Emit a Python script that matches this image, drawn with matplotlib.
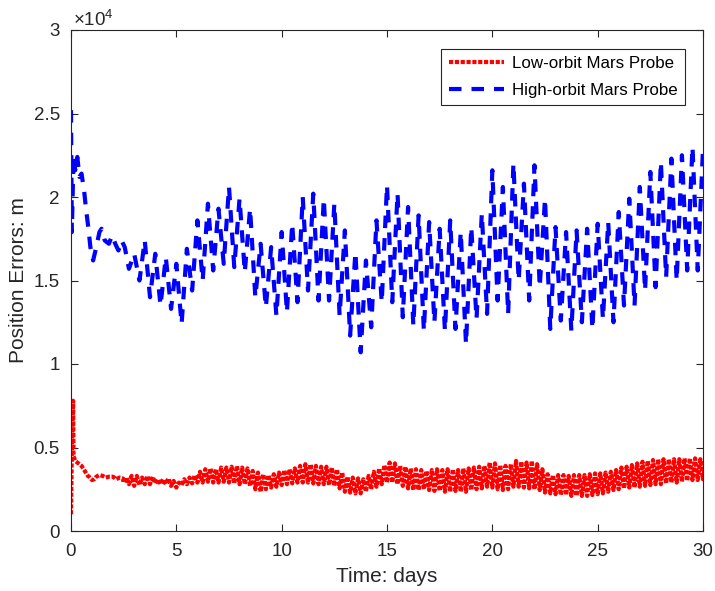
import numpy as np
import matplotlib.pyplot as plt
from matplotlib.ticker import FuncFormatter, MultipleLocator

plt.rcParams['font.family'] = ['Liberation Sans', 'DejaVu Sans']
plt.rcParams['mathtext.fontset'] = 'custom'
plt.rcParams['mathtext.rm'] = 'Liberation Sans'

# all position errors below are in units of 1e4 m

# high-orbit probe: start-up transient
hi_start_t = [0.0, 0.04, 0.12, 0.2, 0.3, 0.4, 0.5, 0.62, 0.72, 0.82, 0.92, 1.05,
              1.2, 1.35, 1.45, 1.6, 1.8, 1.95, 2.1, 2.25, 2.4, 2.55, 2.75]
hi_start_v = [2.52, 1.79, 2.25, 2.16, 2.24, 2.12, 2.14, 2.04, 1.92, 1.82, 1.70, 1.62,
              1.70, 1.79, 1.81, 1.74, 1.72, 1.77, 1.72, 1.68, 1.74, 1.70, 1.57]
# high-orbit probe: orbit peaks (t = 3.0, 3.5, ... 30.0) and troughs (t = 3.25 ... 29.75)
hi_peaks = [1.66, 1.74, 1.66, 1.64, 1.60, 1.69, 1.86, 1.96, 1.93, 2.06,
            1.99, 1.93, 1.72, 1.70, 1.79, 1.84, 2.00, 2.02, 1.99, 1.96,
            1.80, 1.67, 1.62, 1.86, 2.07, 2.02, 1.94, 1.89, 1.85, 1.81,
            1.86, 1.79, 1.82, 1.90, 2.16, 2.06, 2.20, 2.08, 2.19, 1.99,
            1.82, 1.79, 1.80, 1.81, 1.84, 1.85, 1.91, 1.99, 2.06, 2.15,
            2.21, 2.23, 2.25, 2.30, 2.29]
hi_troughs = [1.50, 1.40, 1.35, 1.33, 1.24, 1.44, 1.50, 1.56, 1.60, 1.58,
              1.55, 1.40, 1.34, 1.29, 1.31, 1.37, 1.44, 1.38, 1.38, 1.29,
              1.17, 1.07, 1.22, 1.37, 1.37, 1.28, 1.23, 1.20, 1.25, 1.20,
              1.21, 1.12, 1.27, 1.30, 1.38, 1.30, 1.50, 1.38, 1.46, 1.21,
              1.26, 1.20, 1.25, 1.21, 1.27, 1.25, 1.35, 1.35, 1.44, 1.46,
              1.52, 1.50, 1.56, 1.56]

# low-orbit probe: start-up transient
lo_start_t = [0.0, 0.04, 0.1, 0.12, 0.2, 0.3, 0.4, 0.5, 0.6, 0.7, 0.8, 0.9,
              1.0, 1.1, 1.2, 1.35, 1.5, 1.65, 1.8, 2.0, 2.15, 2.3, 2.45]
lo_start_v = [0.10, 0.48, 0.78, 0.45, 0.42, 0.41, 0.40, 0.39, 0.37, 0.35, 0.33, 0.32,
              0.305, 0.31, 0.325, 0.335, 0.33, 0.32, 0.325, 0.325, 0.31, 0.32, 0.315]
# low-orbit probe: band lower / upper edges (t = 2.5, 2.75, ... 30.0)
lo_low = [0.29, 0.28, 0.27, 0.275, 0.28, 0.28, 0.285, 0.28, 0.28, 0.27,
          0.26, 0.275, 0.28, 0.285, 0.29, 0.29, 0.295, 0.29, 0.29, 0.295,
          0.29, 0.285, 0.28, 0.28, 0.27, 0.25, 0.235, 0.25, 0.26, 0.265,
          0.275, 0.28, 0.285, 0.29, 0.29, 0.29, 0.285, 0.28, 0.28, 0.275,
          0.27, 0.255, 0.235, 0.23, 0.225, 0.225, 0.235, 0.25, 0.265, 0.28,
          0.29, 0.29, 0.28, 0.27, 0.255, 0.245, 0.245, 0.25, 0.245, 0.24,
          0.24, 0.235, 0.235, 0.24, 0.235, 0.235, 0.245, 0.25, 0.255, 0.265,
          0.26, 0.25, 0.245, 0.25, 0.265, 0.265, 0.26, 0.255, 0.25, 0.245,
          0.23, 0.225, 0.22, 0.215, 0.215, 0.21, 0.21, 0.21, 0.21, 0.215,
          0.22, 0.225, 0.235, 0.245, 0.25, 0.255, 0.26, 0.26, 0.265, 0.27,
          0.275, 0.28, 0.28, 0.285, 0.29, 0.29, 0.295, 0.30, 0.305, 0.305,
          0.31]
lo_high = [0.32, 0.33, 0.33, 0.32, 0.33, 0.325, 0.31, 0.31, 0.315, 0.30,
           0.29, 0.31, 0.32, 0.335, 0.355, 0.37, 0.375, 0.37, 0.38, 0.38,
           0.385, 0.39, 0.38, 0.375, 0.36, 0.35, 0.34, 0.335, 0.34, 0.35,
           0.365, 0.37, 0.375, 0.39, 0.40, 0.40, 0.39, 0.385, 0.385, 0.38,
           0.37, 0.35, 0.325, 0.32, 0.315, 0.31, 0.33, 0.355, 0.375, 0.395,
           0.41, 0.405, 0.39, 0.385, 0.375, 0.37, 0.365, 0.36, 0.365, 0.37,
           0.365, 0.37, 0.37, 0.365, 0.375, 0.375, 0.38, 0.385, 0.39, 0.41,
           0.405, 0.395, 0.39, 0.40, 0.42, 0.415, 0.41, 0.42, 0.40, 0.37,
           0.34, 0.335, 0.335, 0.335, 0.33, 0.335, 0.335, 0.335, 0.34, 0.345,
           0.345, 0.35, 0.355, 0.365, 0.38, 0.385, 0.395, 0.405, 0.415, 0.42,
           0.425, 0.43, 0.43, 0.43, 0.43, 0.43, 0.435, 0.435, 0.435, 0.43,
           0.43]

# join transient + oscillation into one series each
n = len(hi_peaks) + len(hi_troughs)
hi_cyc_t = np.empty(n)
hi_cyc_v = np.empty(n)
hi_cyc_t[0::2] = 3.0 + 0.5 * np.arange(len(hi_peaks))
hi_cyc_t[1::2] = 3.25 + 0.5 * np.arange(len(hi_troughs))
hi_cyc_v[0::2] = hi_peaks
hi_cyc_v[1::2] = hi_troughs
hi_t = np.concatenate([hi_start_t, hi_cyc_t])
hi_v = np.concatenate([hi_start_v, hi_cyc_v]) * 1e4

m = len(lo_low)
lo_cyc_t = np.empty(2 * m)
lo_cyc_v = np.empty(2 * m)
lo_cyc_t[0::2] = 2.5 + 0.25 * np.arange(m)
lo_cyc_t[1::2] = 2.625 + 0.25 * np.arange(m)
lo_cyc_v[0::2] = lo_low
lo_cyc_v[1::2] = lo_high
lo_t = np.concatenate([lo_start_t, lo_cyc_t])
lo_v = np.concatenate([lo_start_v, lo_cyc_v]) * 1e4

ink = '#262626'
fig = plt.figure(figsize=(7.15, 5.91), dpi=100)
ax = fig.add_axes([71 / 715, 60 / 591, 632 / 715, 501 / 591])

ax.plot(lo_t, lo_v, color='red', lw=3.0, ls=(0, (1, 0.4)), label='Low-orbit Mars Probe')
ax.plot(hi_t, hi_v, color='blue', lw=3.0, ls=(0, (3.0, 2.4)), label='High-orbit Mars Probe')

ax.set_xlim(0, 30)
ax.set_ylim(0, 3e4)
ax.xaxis.set_major_locator(MultipleLocator(5))
ax.yaxis.set_major_locator(MultipleLocator(5000))
ax.yaxis.set_major_formatter(FuncFormatter(lambda v, p: f'{v / 1e4:g}'))
ax.tick_params(direction='in', length=5, width=0.8, top=True, right=True,
               labelsize=13.5, colors=ink)
ax.tick_params(axis='x', pad=9)
ax.tick_params(axis='y', pad=8)
for s in ax.spines.values():
    s.set_color(ink)
    s.set_linewidth(0.8)

ax.set_xlabel('Time: days', fontsize=15, color=ink, labelpad=5)
ax.set_ylabel('Position Errors: m', fontsize=15, color=ink)
ax.text(0.003, 1.008, '×10$^{4}$', transform=ax.transAxes, fontsize=13.5,
        color=ink, va='baseline', ha='left')

leg = ax.legend(loc='upper right', bbox_to_anchor=(0.9715, 0.962), borderaxespad=0,
                fontsize=12.2, fancybox=False, edgecolor=ink, framealpha=1,
                handlelength=3.3, handletextpad=0.45, borderpad=0.42, labelspacing=0.7)
leg.get_frame().set_linewidth(0.8)

fig.savefig('out.png', dpi=100)
